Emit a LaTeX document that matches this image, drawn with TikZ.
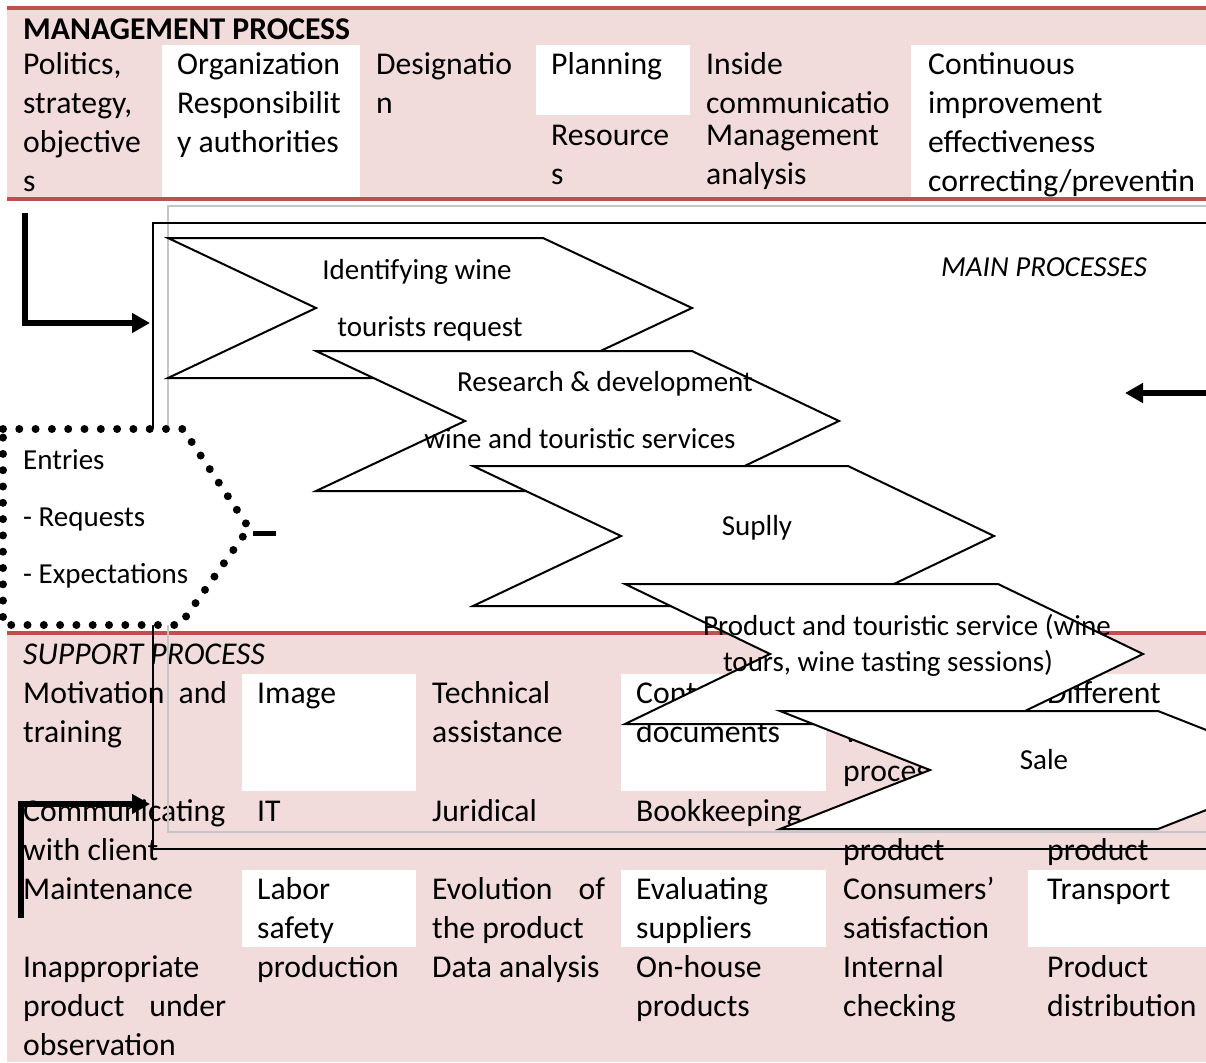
\documentclass[tikz,border=0pt]{standalone}
\usepackage{fontspec}
\setmainfont{Carlito}
\usetikzlibrary{arrows.meta}
\definecolor{bandpink}{HTML}{F2DBDB}
\definecolor{bandred}{HTML}{C0504D}
\newcommand{\tabfont}{\fontsize{31.7}{39}\selectfont}
\newcommand{\boxfont}{\fontsize{29}{35}\selectfont}
\newcommand{\entryfont}{\fontsize{29}{57}\selectfont}

\begin{document}
\begin{tikzpicture}[x=1pt,y=-1pt,
  cell/.style={anchor=north west,inner sep=0pt,align=left,font=\tabfont},
  label line/.style={anchor=base,inner sep=0pt,font=\boxfont},
  chevron/.style={draw,fill=white,line width=2pt,line join=miter},
  band line/.style={draw=bandred,line width=3.5pt},
  dotted border/.style={draw,fill=white,line width=8pt,dash pattern=on 0pt off 16.3pt,line cap=round},
  big arrow/.style={line width=5.5pt,-{Triangle[length=18pt,width=19pt]}}]

  \useasboundingbox (0,0) rectangle (1206,1062);
  \clip (0,0) rectangle (1206,1062);
  \fill[white] (0,0) rectangle (1206,1062);

  % management band
  \fill[bandpink] (7,8) rectangle (1206,199);
  \fill[white] (162,45) rectangle (360,199);
  \fill[white] (536,45) rectangle (690,115);
  \fill[white] (911,45) rectangle (1206,199);
  \draw[band line] (7,8) -- (1206,8);
  \draw[band line] (7,199) -- (1206,199);

  % support band
  \fill[bandpink] (7,633) rectangle (1206,1062);
  \fill[white] (242,674) rectangle (416,791);
  \fill[white] (621,674) rectangle (826,791);
  \fill[white] (1028,674) rectangle (1206,791);
  \fill[white] (242,870) rectangle (416,947);
  \fill[white] (621,870) rectangle (826,947);
  \fill[white] (1028,870) rectangle (1206,947);
  \draw[band line] (7,633) -- (1206,633);

  \node[cell,font=\tabfont\bfseries] (management) at (23,11.7) {\strut MANAGEMENT PROCESS};
  \node[cell] (politics) at (23,46.7) {\strut Politics,\\strategy,\\objective\\s};
  \node[cell] (organization) at (177,46.7) {\strut Organization\\Responsibilit\\y authorities};
  \node[cell] (designation) at (376,46.7) {\strut Designatio\\n};
  \node[cell] (planning) at (551,46.7) {\strut Planning};
  \node[cell] (resources) at (551,117.7) {\strut Resource\\s};
  \node[cell] (inside) at (706,46.7) {\strut Inside\\communicatio};
  \node[cell] (analysis) at (706,117.7) {\strut Management\\analysis};
  \node[cell] (improvement) at (928,46.7) {\strut Continuous\\improvement\\effectiveness\\correcting/preventin};

  \node[cell,font=\tabfont\itshape] (support) at (23,636.7) {\strut SUPPORT PROCESS};
  \node[cell] (motivation) at (23,675.7) {\strut\hbox to 204pt{Motivation\hfill and}\\training};
  \node[cell] (image) at (257,675.7) {\strut Image};
  \node[cell] (technical) at (432,675.7) {\strut Technical\\assistance};
  \node[cell] (control) at (636,675.7) {\strut Cont\\documents};
  \node[cell] (wineproc) at (843,675.7) {\strut\\W\\process};
  \node[cell] (different) at (1047,675.7) {\strut Different};
  \node[cell] (communicating) at (23,793.7) {\strut Communicating\\with client};
  \node[cell] (it) at (257,793.7) {\strut IT};
  \node[cell] (juridical) at (432,793.7) {\strut Juridical};
  \node[cell] (bookkeeping) at (636,793.7) {\strut Bookkeeping};
  \node[cell] (producta) at (843,793.7) {\strut\\product};
  \node[cell] (productb) at (1047,793.7) {\strut\\product};
  \node[cell] (maintenance) at (23,871.7) {\strut Maintenance};
  \node[cell] (labor) at (257,871.7) {\strut Labor\\safety};
  \node[cell] (evolution) at (432,871.7) {\strut\hbox to 173pt{Evolution\hfill of}\\the product};
  \node[cell] (evaluating) at (636,871.7) {\strut Evaluating\\suppliers};
  \node[cell] (consumers) at (843,871.7) {\strut Consumers’\\satisfaction};
  \node[cell] (transport) at (1047,871.7) {\strut Transport};
  \node[cell] (inappropriate) at (23,949.7) {\strut Inappropriate\\\hbox to 203pt{product\hfill under}\\observation};
  \node[cell] (production) at (257,949.7) {\strut production};
  \node[cell] (data) at (432,949.7) {\strut Data analysis};
  \node[cell] (onhouse) at (636,949.7) {\strut On-house\\products};
  \node[cell] (internal) at (843,949.7) {\strut Internal\\checking};
  \node[cell] (distribution) at (1047,949.7) {\strut Product\\distribution};

  % frames of the main processes
  \draw[gray!45,line width=2.2pt] (168,206) rectangle (1240,832);
  \draw[line width=1.8pt] (153,223) rectangle (1240,849);

  % main processes
  \draw[chevron] (168,238) -- (543,238) -- (692,308) -- (543,378) -- (168,378) -- (316,308) -- cycle;
  \node[label line] (identifying) at (417,279) {Identifying wine};
  \node[label line] (tourists) at (430,336) {tourists request};
  \draw[chevron] (316,351) -- (692,351) -- (839,421) -- (692,491) -- (316,491) -- (465,421) -- cycle;
  \node[label line] (research) at (605,391) {Research \& development};
  \node[label line] (services) at (580,448) {wine and touristic services};
  \draw[chevron] (473,466) -- (848,466) -- (994,536) -- (848,606) -- (473,606) -- (621,536) -- cycle;
  \node[label line] (supply) at (757,535) {Suplly};
  \draw[chevron] (625,584) -- (998,584) -- (1143,654) -- (998,724) -- (625,724) -- (770,654) -- cycle;
  \node[label line] (product) at (907,635) {Product and touristic service (wine};
  \node[label line] (tours) at (888,671) {tours, wine tasting sessions)};
  \draw[chevron] (780,711) -- (1158,711) -- (1308,770) -- (1158,829) -- (780,829) -- (930,770) -- cycle;
  \node[label line] (sale) at (1044,769) {Sale};
  \node[label line,font=\boxfont\itshape] (mainproc) at (1044,276) {MAIN PROCESSES};

  % entries
  \draw[dotted border] (3,429) -- (183,429) -- (249,528) -- (180,625) -- (3,625) -- cycle;
  \node[cell,font=\entryfont] (entries) at (23,429.1) {\strut Entries\\- Requests\\- Expectations};

  \coordinate (topstart) at (25,213);
  \coordinate (topend) at (150,323);
  \coordinate (backstart) at (1212,393);
  \coordinate (backend) at (1125,393);
  \coordinate (supstart) at (21,918);
  \coordinate (supend) at (150,804);
  \coordinate (dasha) at (253,533);
  \coordinate (dashb) at (276,533);

  \draw[big arrow] (topstart) |- (topend);
  \draw[big arrow] (backstart) -- (backend);
  \draw[big arrow] (supstart) |- (supend);
  \draw[line width=5pt] (dasha) -- (dashb);
\end{tikzpicture}
\end{document}
